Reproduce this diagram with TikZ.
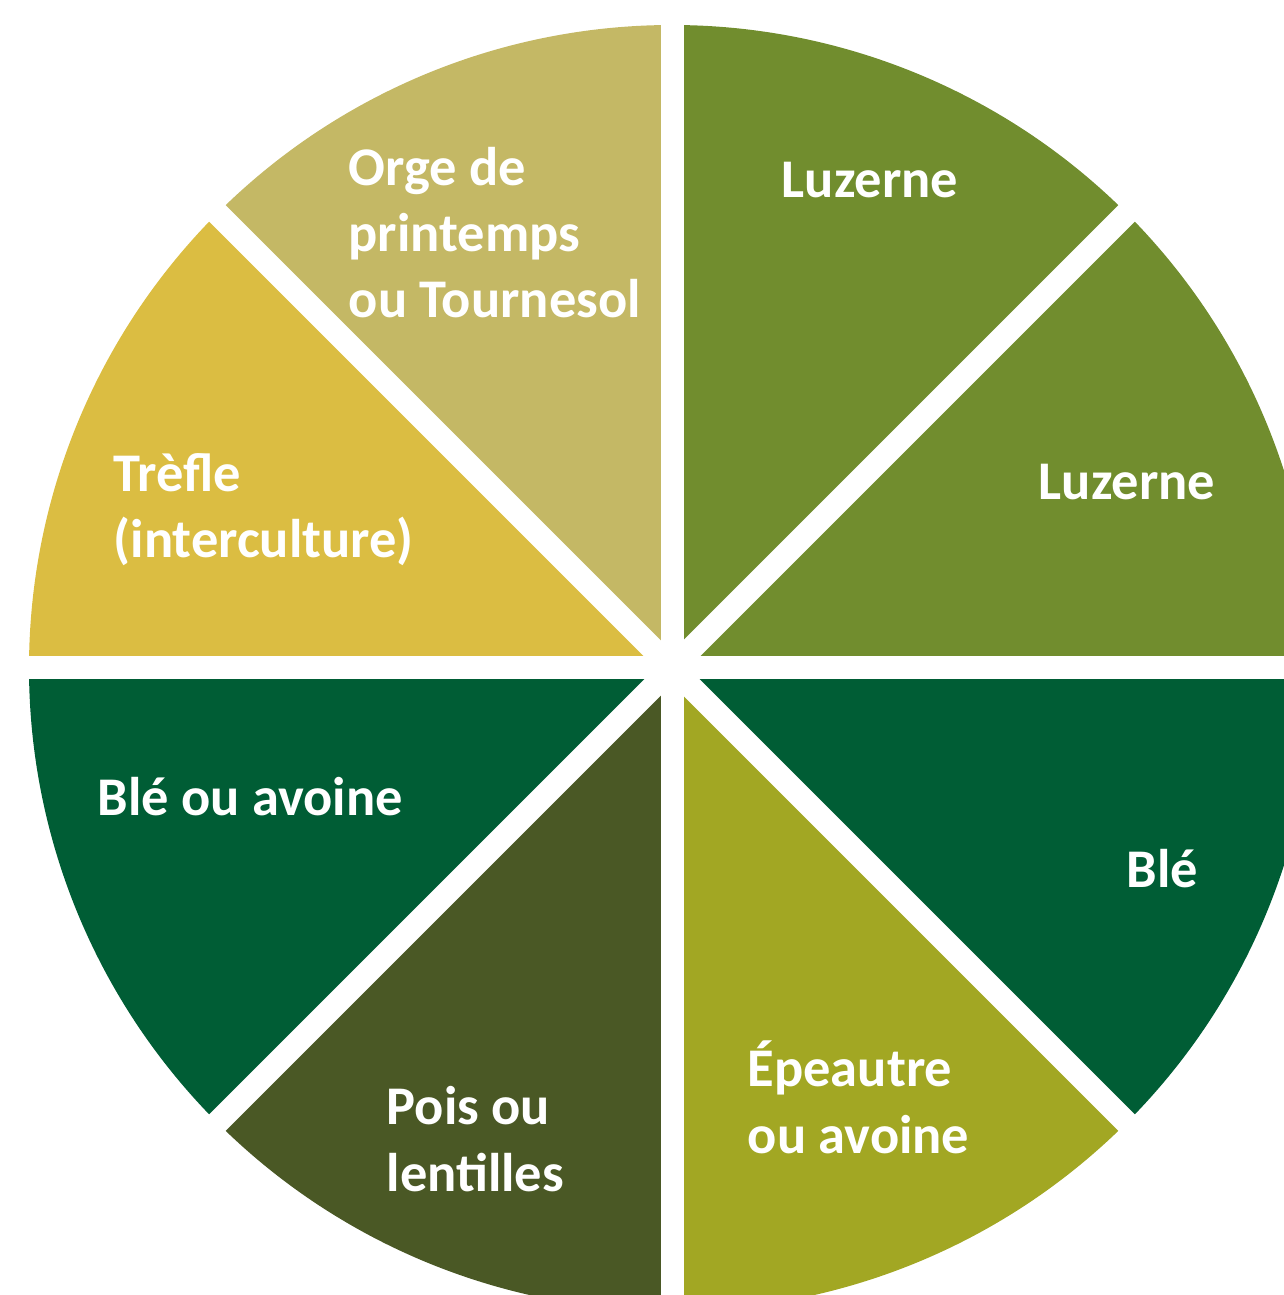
\documentclass[tikz,border=0pt]{standalone}
\usepackage{fontspec}
\setmainfont{Carlito}
\usepackage{tikz}
\usetikzlibrary{calc}
\definecolor{luzgreen}{RGB}{113,141,46}
\definecolor{blegreen}{RGB}{0,93,53}
\definecolor{epeautre}{RGB}{162,167,35}
\definecolor{poisgreen}{RGB}{74,88,37}
\definecolor{trefle}{RGB}{219,189,66}
\definecolor{orge}{RGB}{196,184,101}
\tikzset{
  croplabel/.style={anchor=base west, inner sep=0pt, align=left, text=white,
    font=\fontsize{15.5}{18.8}\selectfont\bfseries},
  gapline/.style={white, line width=0.23cm}
}

\begin{document}
\begin{tikzpicture}
		\useasboundingbox (0,0) rectangle (12.84,12.95);
		\clip (0,0) rectangle (12.84,12.95);
		\coordinate (c) at (6.72,6.27);
		% sectors
		\fill[luzgreen] (c) -- ++(0:6.43) arc (0:45:6.43) -- cycle;
		\fill[luzgreen] (c) -- ++(45:6.43) arc (45:90:6.43) -- cycle;
		\fill[orge] (c) -- ++(90:6.43) arc (90:135:6.43) -- cycle;
		\fill[trefle] (c) -- ++(135:6.43) arc (135:180:6.43) -- cycle;
		\fill[blegreen] (c) -- ++(180:6.43) arc (180:225:6.43) -- cycle;
		\fill[poisgreen] (c) -- ++(225:6.43) arc (225:270:6.43) -- cycle;
		\fill[epeautre] (c) -- ++(270:6.43) arc (270:315:6.43) -- cycle;
		\fill[blegreen] (c) -- ++(315:6.43) arc (315:360:6.43) -- cycle;
		% white gaps
		\foreach \a in {0,45,90,135}
			\draw[gapline] ($(c)+(\a:6.6)$) -- ($(c)+(\a+180:6.6)$);
		% labels (base = last line)
		\node[croplabel] (orgelbl) at (3.48,9.77) {Orge de\\printemps\\ou Tournesol};
		\node[croplabel] (luz1) at (7.81,10.97) {Luzerne};
		\node[croplabel] (luz2) at (10.38,7.95) {Luzerne};
		\node[croplabel] (treflelbl) at (1.13,7.37) {Trèfle\\(interculture)};
		\node[croplabel] (bleavoine) at (0.97,4.79) {Blé ou avoine};
		\node[croplabel] (ble) at (11.26,4.07) {Blé};
		\node[croplabel] (epeautrelbl) at (7.47,1.42) {Épeautre\\ou avoine};
		\node[croplabel] (poislbl) at (3.86,1.04) {Pois ou\\lentilles};
\end{tikzpicture}
\end{document}
